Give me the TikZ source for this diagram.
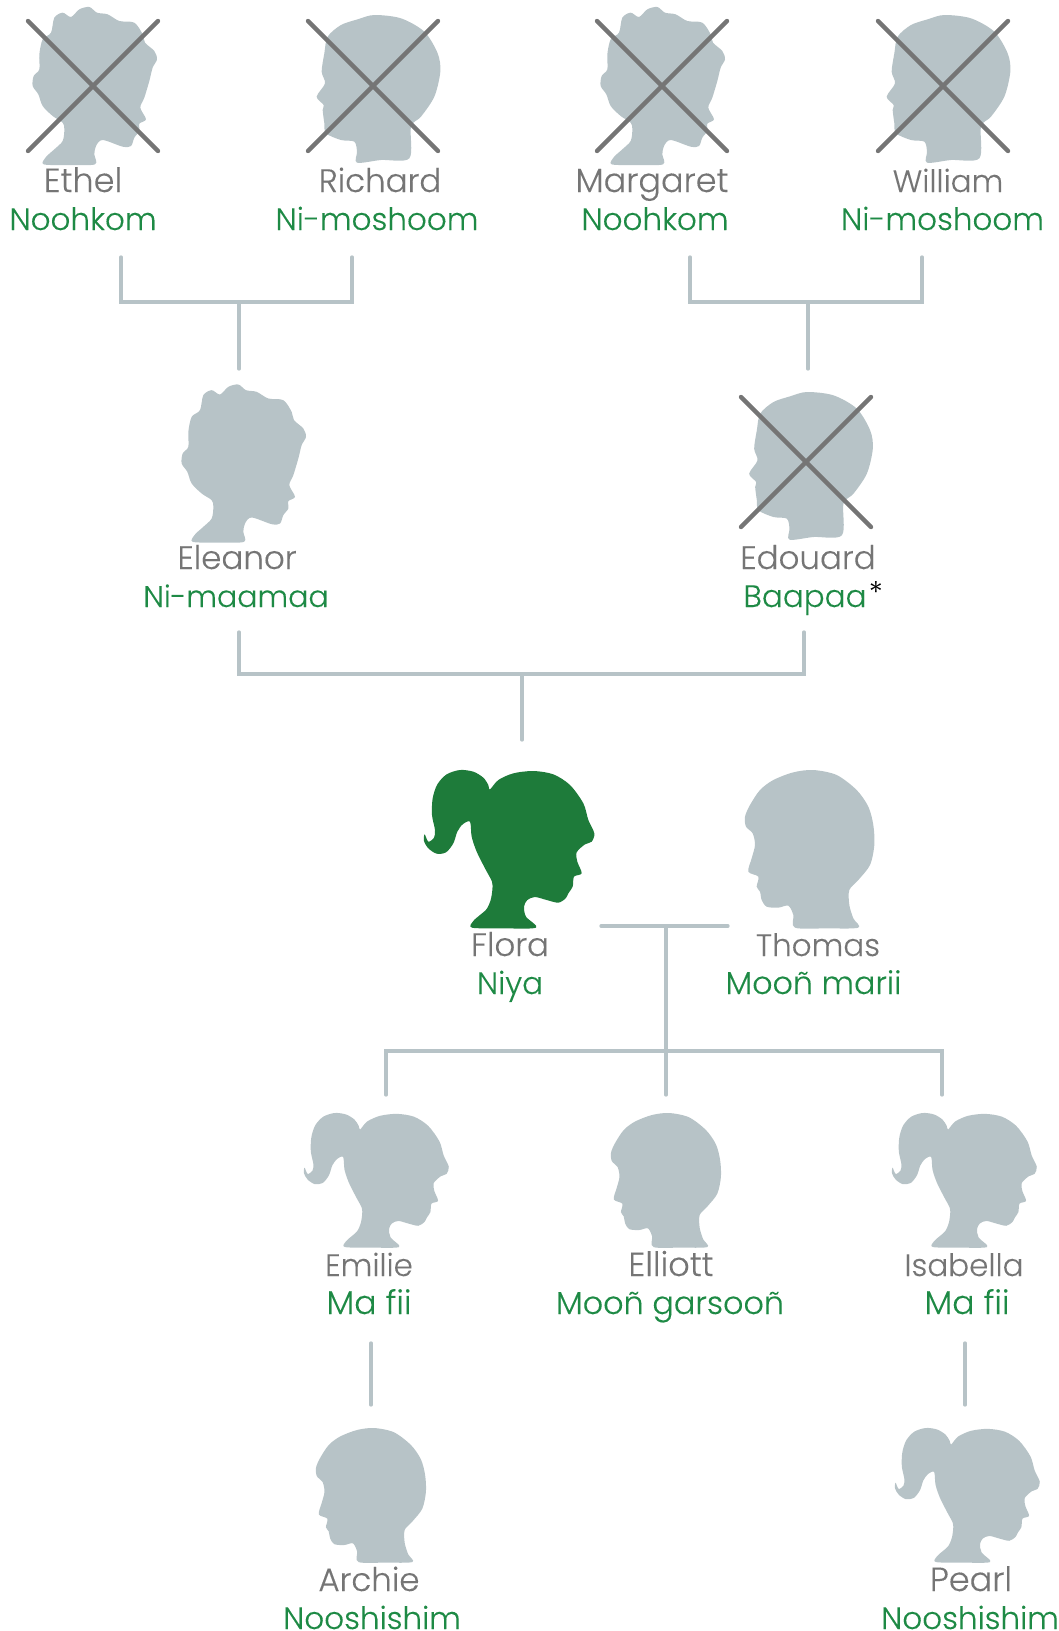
\documentclass[tikz,border=0pt]{standalone}
\usepackage{fontspec}
\setmainfont{Poppins Light}
\newfontfamily\nf[FakeBold=0.15]{Poppins Light}
\definecolor{sil}{HTML}{B7C3C7}
\definecolor{grn}{HTML}{1E7B3A}
\definecolor{lbl}{HTML}{1E8A45}
\definecolor{nam}{HTML}{757575}
\definecolor{crs}{HTML}{757575}
\newcommand\girlpts{(156,488)(160,468)(180,450)(200,432)(212,405)(217,375)(216,350)(195,310)(170,260)(155,215)(150,170)(128,178)(112,200)(100,235)(78,262)(50,266)(25,250)(12,228)(14,208)(25,230)(42,218)(45,195)(36,150)(38,100)(52,58)(80,28)(120,15)(160,20)(190,38)(205,60)(210,73)(235,45)(280,25)(340,18)(400,28)(450,60)(490,115)(505,165)(523,205)(515,230)(495,238)(470,262)(472,290)(485,325)(462,335)(458,365)(445,385)(437,400)(415,413)(380,405)(345,396)(322,405)(312,425)(318,455)(348,488)(250,490)}
\newcommand\boypts{(165,488)(160,450)(145,422)(115,428)(80,425)(65,405)(60,380)(50,365)(55,335)(25,320)(35,280)(45,240)(38,205)(18,185)(15,155)(30,120)(60,75)(100,45)(160,22)(220,15)(290,30)(350,75)(385,125)(400,180)(403,240)(390,300)(355,345)(328,375)(328,420)(340,460)(355,488)(260,490)}
\newcommand\curlpts{(68,500)(75,478)(100,455)(125,430)(130,395)(125,375)(95,355)(65,325)(52,290)(35,265)(38,235)(55,215)(55,170)(65,125)(90,105)(100,60)(125,45)(150,58)(175,35)(205,28)(228,45)(260,50)(295,70)(340,75)(365,110)(372,135)(400,160)(408,185)(395,210)(385,250)(370,300)(358,330)(375,365)(355,378)(355,400)(340,420)(330,445)(305,447)(245,427)(225,445)(220,470)(222,500)(145,502)}
\newcommand\manpts{(178,478)(178,445)(170,415)(130,410)(85,390)(80,360)(75,320)(78,305)(57,280)(82,240)(72,205)(80,150)(90,100)(130,65)(180,48)(230,35)(310,45)(380,85)(420,150)(428,205)(410,280)(370,340)(340,370)(335,465)(250,470)}
% #1 points, #2 colour, #3 #4 target left/top, #5 scale, #6 #7 source left/top
\newcommand\silh[7]{\fill[#2,shift={(#3,#4)},scale=#5/3,shift={(-#6,-#7)}] plot[smooth cycle,tension=.5] coordinates {#1};}
\newcommand\girl[4]{\silh{\girlpts}{#1}{#2}{#3}{#4}{12}{15}}
\newcommand\boy[3]{\silh{\boypts}{sil}{#1}{#2}{#3}{15}{15}}
\newcommand\curl[2]{\silh{\curlpts}{sil}{#1}{#2}{1}{33}{28}}
\newcommand\man[2]{\silh{\manpts}{sil}{#1}{#2}{1}{55}{35}}
\tikzset{
  x=1pt,y=-1pt,
  who/.style={anchor=base,inner sep=0pt,text=nam,font=\nf\fontsize{#1}{#1}\selectfont},
  who/.default=32.5,
  rel/.style={anchor=base,inner sep=0pt,text=lbl,font=\nf\fontsize{#1}{#1}\selectfont},
  rel/.default=31,
  link/.style={draw=sil,line width=3.3pt,line cap=round,line join=miter},
  xmark/.style={draw=crs,line width=4.4pt,line cap=round},
}
\newcommand\crossat[3]{%
  \coordinate (#1a) at (#2-65,#3-65); \coordinate (#1b) at (#2+65,#3+65);
  \coordinate (#1c) at (#2+65,#3-65); \coordinate (#1d) at (#2-65,#3+65);
  \draw[xmark] (#1a) -- (#1b); \draw[xmark] (#1c) -- (#1d);}
\begin{document}
\begin{tikzpicture}
\useasboundingbox (0,0) rectangle (1059,1631);
\curl{32}{7}
\man{316}{15}
\curl{600}{7}
\man{886}{15}
\curl{181}{384.5}
\man{748.5}{392}
\girl{grn}{424}{770}{1}
\boy{745}{770}{1}
\girl{sil}{304}{1113}{.85}
\boy{611}{1113}{.85}
\girl{sil}{892}{1113}{.85}
\boy{316}{1428}{.85}
\girl{sil}{895}{1428}{.85}
\crossat{x1}{93}{86}
\crossat{x2}{373}{86}
\crossat{x3}{662}{86}
\crossat{x4}{943}{86}
\crossat{x5}{806}{462}
\node[who=33.5] (ethel) at (83,192) {Ethel};
\node[rel] (noohkoma) at (83,230) {Noohkom};
\node[who] (richard) at (380,192) {Richard};
\node[rel] (nimosha) at (377,230) {Ni-moshoom};
\node[who=33.5] (margaret) at (652,192) {Margaret};
\node[rel] (noohkomb) at (655,230) {Noohkom};
\node[who=31] (william) at (948,192) {William};
\node[rel] (nimoshb) at (942.5,230) {Ni-moshoom};
\node[who] (eleanor) at (237,569) {Eleanor};
\node[rel=30] (nimaamaa) at (236,607) {Ni-maamaa};
\node[who] (edouard) at (808,569) {Edouard};
\node[rel] (baapaa) at (805,607) {Baapaa};
\node[anchor=center,inner sep=0pt,text=black,font=\fontsize{30}{30}\selectfont] (star) at (876,593) {*};
\node[who] (flora) at (510,956) {Flora};
\node[rel] (niya) at (510,994) {Niya};
\node[who=31] (thomas) at (818,956) {Thomas};
\node[rel=31.7] (mari) at (813.5,994) {Mooñ marii};
\node[who=31] (emilie) at (369,1276) {Emilie};
\node[rel=33] (mafia) at (369,1314) {Ma fii};
\node[who=33.5] (elliott) at (671,1276) {Elliott};
\node[rel=31.8] (garson) at (670,1314) {Mooñ garsooñ};
\node[who=31] (isabella) at (964,1276) {Isabella};
\node[rel=33] (mafib) at (967,1314) {Ma fii};
\node[who] (archie) at (369,1591) {Archie};
\node[rel] (noosha) at (372,1629) {Nooshishim};
\node[who=33.5] (pearl) at (971,1591) {Pearl};
\node[rel] (nooshb) at (970,1629) {Nooshishim};
% connectors
\coordinate (a1) at (121,257); \coordinate (a2) at (352,257);
\coordinate (a3) at (239,302); \coordinate (a4) at (239,369);
\draw[link] (a1) |- (a3) -| (a2); \draw[link] (a3) -- (a4);
\coordinate (b1) at (690,257); \coordinate (b2) at (922,257);
\coordinate (b3) at (808,302); \coordinate (b4) at (808,369);
\draw[link] (b1) |- (b3) -| (b2); \draw[link] (b3) -- (b4);
\coordinate (c1) at (239,632); \coordinate (c2) at (804,632);
\coordinate (c3) at (522,674); \coordinate (c4) at (522,740);
\draw[link] (c1) |- (c3) -| (c2); \draw[link] (c3) -- (c4);
\coordinate (d1) at (601,926); \coordinate (d2) at (728,926);
\coordinate (d3) at (666,926); \coordinate (d4) at (666,1095);
\draw[link] (d1) -- (d2); \draw[link] (d3) -- (d4);
\coordinate (e1) at (386,1095); \coordinate (e2) at (942,1095);
\coordinate (e3) at (666,1051);
\draw[link] (e1) |- (e3) -| (e2);
\coordinate (f1) at (371,1343); \coordinate (f2) at (371,1405);
\draw[link] (f1) -- (f2);
\coordinate (g1) at (965,1343); \coordinate (g2) at (965,1405);
\draw[link] (g1) -- (g2);
\end{tikzpicture}
\end{document}
